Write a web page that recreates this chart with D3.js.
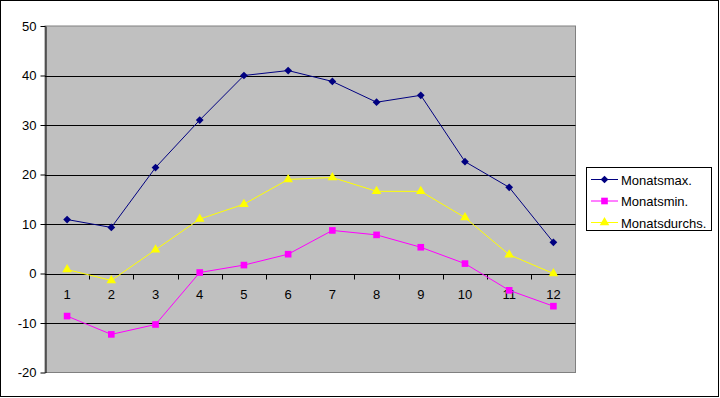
<!DOCTYPE html>
<html>
<head>
<meta charset="utf-8">
<script src="https://cdn.jsdelivr.net/npm/d3@7"></script>
<style>
  html, body { margin: 0; padding: 0; background: #fff; }
  svg { display: block; font-family: Arial, "Liberation Sans", sans-serif; }
</style>
</head>
<body>
<script>
const months = [1, 2, 3, 4, 5, 6, 7, 8, 9, 10, 11, 12];
const maxValues = [10.9, 9.3, 21.4, 31, 40, 41, 38.8, 34.6, 36, 22.6, 17.4, 6.3];
const minValues = [-8.6, -12.3, -10.3, 0.2, 1.7, 3.9, 8.7, 7.8, 5.3, 2.0, -3.4, -6.6];
const avgValues = [0.8, -1.4, 4.8, 11, 14, 19, 19.4, 16.6, 16.6, 11.3, 3.8, 0];
const yTicks = [-20, -10, 0, 10, 20, 30, 40, 50];

const series = [
  { name: 'Monatsmax.', values: maxValues, color: '#000080', marker: 'diamond' },
  { name: 'Monatsmin.', values: minValues, color: '#FF00FF', marker: 'square' },
  { name: 'Monatsdurchs.', values: avgValues, color: '#FFFF00', marker: 'triangle' }
];

const W = 720, H = 398;
const plot = { left: 45, top: 26, right: 575.5, bottom: 372.5 };

const svg = d3.select('body').append('svg').attr('width', W).attr('height', H);

// outer frame
svg.append('rect')
  .attr('x', 0.5).attr('y', 0.5)
  .attr('width', W - 2).attr('height', H - 2)
  .attr('fill', '#fff').attr('stroke', '#000');

const x = d3.scaleBand().domain(months).range([plot.left, plot.right]);
const y = d3.scaleLinear().domain([-20, 50]).range([plot.bottom, plot.top]);

// plot area
svg.append('rect')
  .attr('x', plot.left).attr('y', plot.top)
  .attr('width', plot.right - plot.left).attr('height', plot.bottom - plot.top)
  .attr('fill', '#C0C0C0').attr('stroke', '#808080');

// gridlines
svg.append('g')
  .selectAll('line')
  .data(yTicks.filter((d) => d !== -20 && d !== 50))
  .join('line')
  .attr('x1', plot.left).attr('x2', plot.right)
  .attr('y1', (d) => Math.round(y(d)) + 0.5).attr('y2', (d) => Math.round(y(d)) + 0.5)
  .attr('stroke', '#000');

// y axis
const yAxis = svg.append('g')
  .attr('transform', `translate(${plot.left + 0.5},0)`)
  .call(d3.axisLeft(y).tickValues(yTicks).tickFormat((d) => String(d))
    .tickSize(5).tickPadding(4).tickSizeOuter(0));
yAxis.select('.domain').attr('stroke', '#000');
yAxis.selectAll('.tick line').attr('stroke', '#000');
yAxis.selectAll('.tick text').attr('font-size', 13).attr('fill', '#000')
  .attr('font-family', 'Arial, "Liberation Sans", sans-serif');

// x axis at y = 0
const y0 = Math.round(y(0)) + 0.5;
svg.append('line')
  .attr('x1', plot.left).attr('x2', plot.right)
  .attr('y1', y0).attr('y2', y0).attr('stroke', '#000');
svg.append('g')
  .selectAll('line')
  .data(months.slice(1))
  .join('line')
  .attr('x1', (d) => Math.round(x(d)) + 0.5).attr('x2', (d) => Math.round(x(d)) + 0.5)
  .attr('y1', y0).attr('y2', y0 + 5)
  .attr('stroke', '#000');
svg.append('g')
  .selectAll('text')
  .data(months)
  .join('text')
  .attr('x', (d) => x(d) + x.bandwidth() / 2)
  .attr('y', y0 + 24)
  .attr('text-anchor', 'middle')
  .attr('font-size', 13)
  .text((d) => d);

const symbols = {
  diamond: { path: d3.symbol().type(d3.symbolSquare).size(30)(), rotate: 45 },
  square: { path: d3.symbol().type(d3.symbolSquare).size(44)(), rotate: 0 },
  triangle: { path: d3.symbol().type(d3.symbolTriangle).size(40)(), rotate: 0 }
};

const line = d3.line()
  .x((d, i) => x(months[i]) + x.bandwidth() / 2)
  .y((d) => y(d));

series.forEach((s) => {
  svg.append('path')
    .attr('d', line(s.values))
    .attr('fill', 'none')
    .attr('stroke', s.color)
    .attr('stroke-width', 1);
  svg.append('g')
    .selectAll('path')
    .data(s.values)
    .join('path')
    .attr('transform', (d, i) =>
      `translate(${x(months[i]) + x.bandwidth() / 2},${y(d)}) rotate(${symbols[s.marker].rotate})`)
    .attr('d', symbols[s.marker].path)
    .attr('fill', s.color);
});

// legend
const legend = svg.append('g');
legend.append('rect')
  .attr('x', 586.5).attr('y', 167.5)
  .attr('width', 125).attr('height', 63)
  .attr('fill', '#fff').attr('stroke', '#000');

legend.selectAll('.legend-item')
  .data(series)
  .join('g')
  .attr('class', 'legend-item')
  .attr('transform', (d, i) => `translate(591, ${179.5 + i * 21.5})`)
  .each(function (d) {
    const g = d3.select(this);
    g.append('line')
      .attr('x1', 0).attr('x2', 27).attr('y1', 0).attr('y2', 0)
      .attr('stroke', d.color);
    g.append('path')
      .attr('transform', `translate(13.5,0) rotate(${symbols[d.marker].rotate})`)
      .attr('d', symbols[d.marker].path)
      .attr('fill', d.color);
    g.append('text')
      .attr('x', 30).attr('y', 5)
      .attr('font-size', 13)
      .text(d.name);
  });
</script>
</body>
</html>
